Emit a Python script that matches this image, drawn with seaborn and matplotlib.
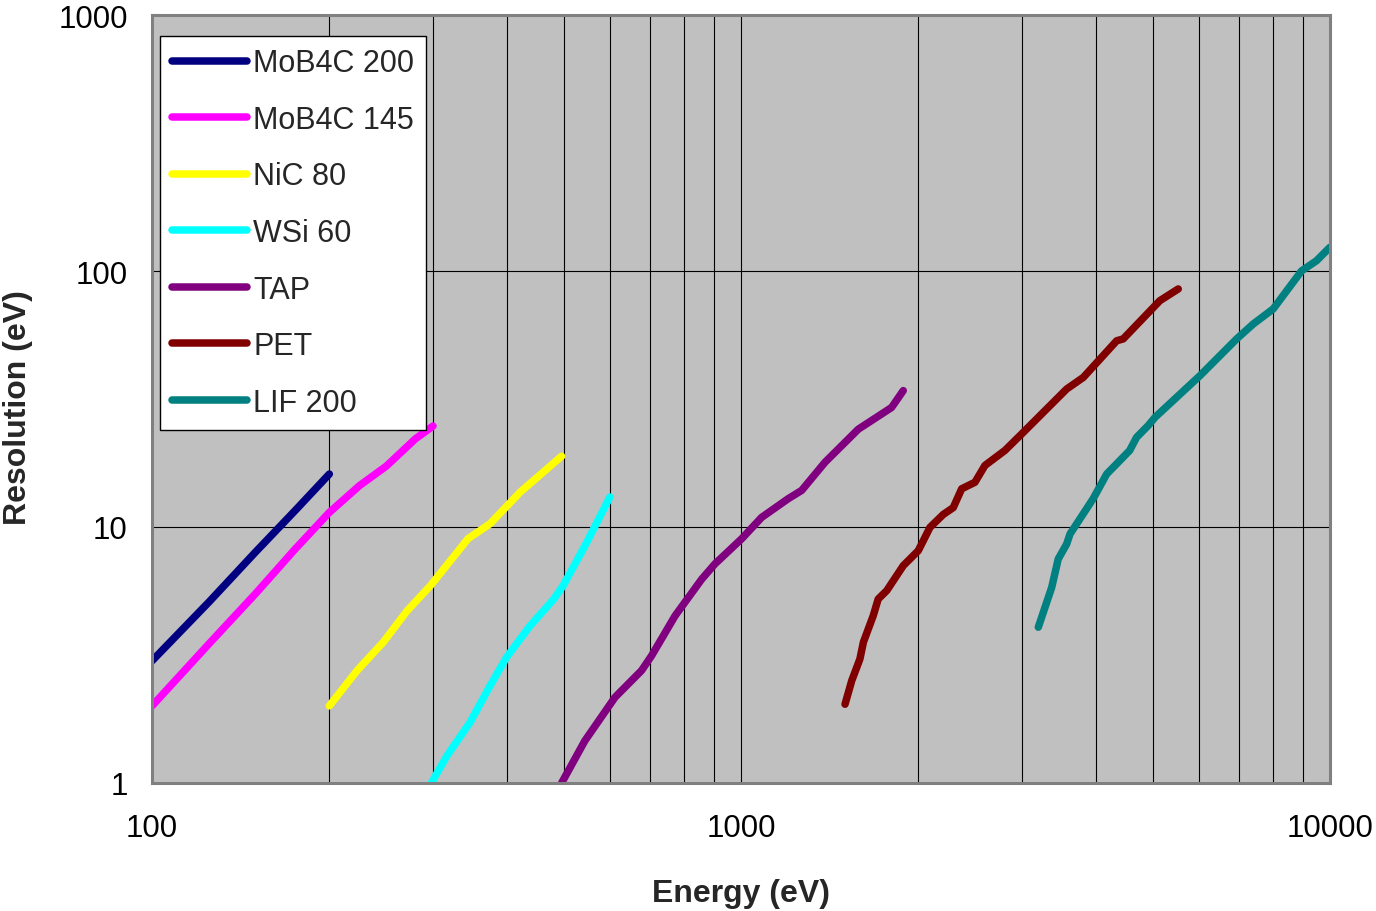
import matplotlib
matplotlib.use("Agg")
import matplotlib.pyplot as plt
import numpy as np
import pandas as pd
import seaborn as sns
from matplotlib.ticker import FixedLocator, NullFormatter, NullLocator

# Resolution versus energy for each crystal / multilayer
series_names = ["MoB4C 200", "MoB4C 145", "NiC 80", "WSi 60", "TAP", "PET", "LIF 200"]
series_colors = ["#000080", "#FF00FF", "#FFFF00", "#00FFFF", "#800080", "#800000", "#008080"]

mob4c200_energy = [100, 125, 150, 175, 200]
mob4c200_res = [3.0, 5.1, 8.0, 11.6, 16.1]

mob4c145_energy = [100, 125, 150, 175, 200, 225, 250, 280, 300]
mob4c145_res = [2.0, 3.5, 5.5, 8.2, 11.4, 14.5, 17.3, 22.1, 24.8]

nic80_energy = [200, 223, 247, 271, 297, 344, 375, 422, 496]
nic80_res = [2.0, 2.75, 3.55, 4.7, 5.9, 9.0, 10.3, 13.7, 18.9]

wsi60_energy = [298, 317, 347, 375, 400, 438, 480, 499, 547, 599]
wsi60_res = [1.0, 1.28, 1.73, 2.4, 3.1, 4.1, 5.2, 5.9, 8.7, 13.1]

tap_energy = [496, 543, 611, 678, 705, 773, 858, 903, 1003, 1084, 1203, 1268, 1389, 1582, 1802, 1886]
tap_res = [1.0, 1.46, 2.16, 2.75, 3.14, 4.5, 6.26, 7.17, 9.0, 10.9, 12.9, 13.9, 17.9, 24.1, 29.3, 34.1]

pet_energy = [1502, 1542, 1592, 1614, 1677, 1710, 1768, 1886, 2000, 2094, 2206, 2293, 2370,
              2496, 2596, 2806, 2997, 3573, 3813, 4345, 4457, 5144, 5527]
pet_res = [2.03, 2.51, 3.05, 3.55, 4.5, 5.23, 5.64, 7.06, 8.08, 9.97, 11.2, 11.9, 14.1,
           14.95, 17.4, 19.9, 23.1, 34.6, 38.4, 53.4, 54.3, 76.6, 85.1]

lif200_energy = [3198, 3370, 3457, 3573, 3620, 3963, 4178, 4571, 4696, 4914, 5046, 6016,
                 6945, 7410, 8011, 8954, 9490, 10000]
lif200_res = [4.06, 5.81, 7.5, 8.58, 9.39, 12.9, 16.1, 19.9, 22.4, 24.9, 26.8, 39.0,
              54.3, 62.1, 71.1, 100.2, 109.7, 123.8]

x_ticks = [100, 1000, 10000]
x_tick_labels = ["100", "1000", "10000"]
y_ticks = [1, 10, 100, 1000]
y_tick_labels = ["1", "10", "100", "1000"]

energies = [mob4c200_energy, mob4c145_energy, nic80_energy, wsi60_energy,
            tap_energy, pet_energy, lif200_energy]
resolutions = [mob4c200_res, mob4c145_res, nic80_res, wsi60_res,
               tap_res, pet_res, lif200_res]

frames = []
for name, e, r in zip(series_names, energies, resolutions):
    frames.append(pd.DataFrame({"Energy": e, "Resolution": r, "Series": name}))
df = pd.concat(frames, ignore_index=True)

sns.set_theme(style="white")
plt.rcParams["font.family"] = ["Liberation Sans", "DejaVu Sans"]

fig = plt.figure(figsize=(13.76, 9.12), dpi=100)
ax = fig.add_axes([0.1105, 0.1404, 0.856, 0.842])
ax.set_xscale("log")
ax.set_yscale("log")
ax.set_facecolor("#C0C0C0")

sns.lineplot(data=df, x="Energy", y="Resolution", hue="Series",
             hue_order=series_names, palette=dict(zip(series_names, series_colors)),
             sort=False, estimator=None, linewidth=5.4, ax=ax,
             solid_capstyle="round", solid_joinstyle="round")

ax.set_xlim(100, 10000)
ax.set_ylim(1, 1000)

# grid: every minor decade step vertically, only decades horizontally
ax.xaxis.set_major_locator(FixedLocator(x_ticks))
ax.set_xticklabels(x_tick_labels)
minor_x = [m * d for d in (100, 1000) for m in range(2, 10)]
ax.xaxis.set_minor_locator(FixedLocator(minor_x))
ax.xaxis.set_minor_formatter(NullFormatter())
ax.yaxis.set_major_locator(FixedLocator(y_ticks))
ax.set_yticklabels(y_tick_labels)
ax.yaxis.set_minor_locator(NullLocator())
ax.set_axisbelow(True)
ax.grid(True, which="both", axis="x", color="black", linewidth=0.8)
ax.grid(True, which="major", axis="y", color="black", linewidth=0.8)

ax.tick_params(axis="both", which="major", direction="out", length=6.5, width=1.2,
               color="#505050", labelsize=22.5, labelcolor="black")
ax.tick_params(axis="x", which="major", pad=15)
ax.tick_params(axis="y", which="major", pad=11)
ax.tick_params(axis="x", which="minor", length=0)

for side in ["left", "right", "top", "bottom"]:
    ax.spines[side].set_color("#808080")
    ax.spines[side].set_linewidth(2.2)
    ax.spines[side].set_visible(True)

ax.set_xlabel("Energy (eV)", fontsize=23, fontweight="bold")
ax.set_ylabel("Resolution (eV)", fontsize=23, fontweight="bold")
ax.xaxis.set_label_coords(0.5, -0.124)
ax.yaxis.set_label_coords(-0.101, 0.49)

handles, labels = ax.get_legend_handles_labels()
leg = ax.legend(handles, labels, loc="upper left", bbox_to_anchor=(0.0068, 0.9727),
                borderaxespad=0, fontsize=22, frameon=True, fancybox=False,
                edgecolor="black", facecolor="white", framealpha=1,
                handlelength=2.45, handletextpad=0.2, labelspacing=0.87,
                borderpad=0.4)
leg.get_frame().set_linewidth(1.0)
for line in leg.get_lines():
    line.set_linewidth(5.4)
    line.set_solid_capstyle("round")

fig.savefig("out.png", dpi=100)
